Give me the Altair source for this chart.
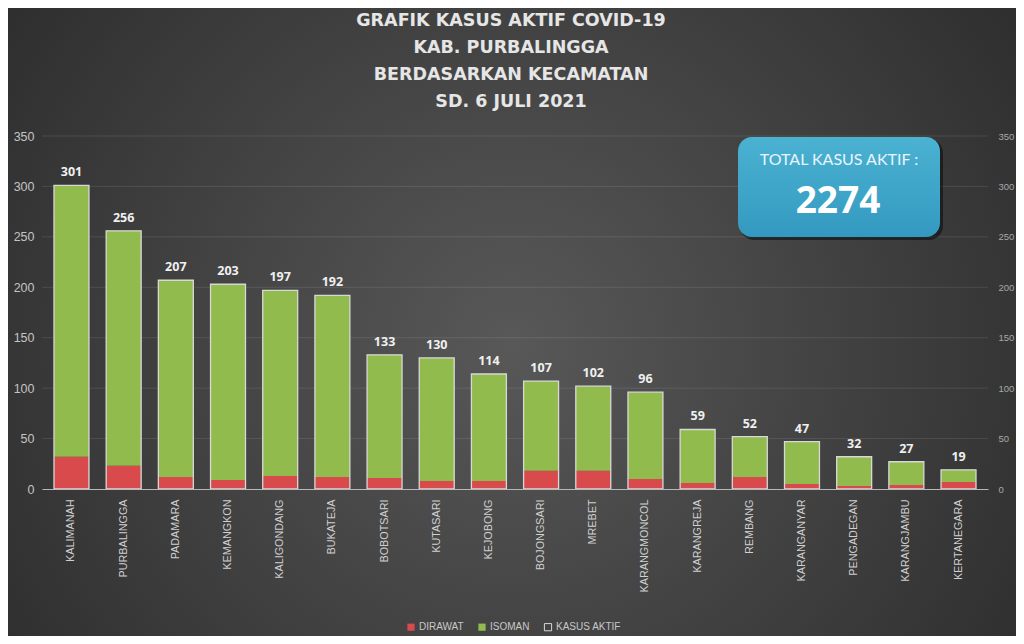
import altair as alt
import pandas as pd

kecamatan = ["KALIMANAH", "PURBALINGGA", "PADAMARA", "KEMANGKON", "KALIGONDANG",
             "BUKATEJA", "BOBOTSARI", "KUTASARI", "KEJOBONG", "BOJONGSARI", "MREBET",
             "KARANGMONCOL", "KARANGREJA", "REMBANG", "KARANGANYAR", "PENGADEGAN",
             "KARANGJAMBU", "KERTANEGARA"]
kasus_aktif = [301, 256, 207, 203, 197, 192, 133, 130, 114, 107, 102, 96, 59, 52, 47, 32, 27, 19]
dirawat = [32, 23, 12, 9, 13, 12, 11, 8, 8, 18, 18, 10, 6, 12, 5, 3, 4, 7]
isoman = [269, 233, 195, 194, 184, 180, 122, 122, 106, 89, 84, 86, 53, 40, 42, 29, 23, 12]
kategori = ["DIRAWAT", "ISOMAN", "KASUS AKTIF"]
y_ticks = [0, 50, 100, 150, 200, 250, 300, 350]
title_lines = ["GRAFIK KASUS AKTIF COVID-19", "KAB. PURBALINGGA",
               "BERDASARKAN KECAMATAN", "SD. 6 JULI 2021"]
total_label = "TOTAL KASUS AKTIF :"
total_value = "2274"

W, H = 946, 353
PL, PT, PR, PB = 34, 128, 28, 147

rows = []
for i, k in enumerate(kecamatan):
    rows.append({"Kecamatan": k, "Kategori": "DIRAWAT", "Jumlah": dirawat[i], "ord": 0})
    rows.append({"Kecamatan": k, "Kategori": "ISOMAN", "Jumlah": isoman[i], "ord": 1})
stack_df = pd.DataFrame(rows)
total_df = pd.DataFrame({"Kecamatan": kecamatan, "Jumlah": kasus_aktif,
                         "Kategori": ["KASUS AKTIF"] * len(kecamatan)})
grid_df = pd.DataFrame({"v": y_ticks[1:]})
one = pd.DataFrame({"a": [0]})

x_enc = alt.X("Kecamatan:N", sort=kecamatan, title=None,
              scale=alt.Scale(paddingInner=0.33, paddingOuter=0.23),
              axis=alt.Axis(labelAngle=-90, labelFont="Liberation Sans", labelFontSize=10.8,
                            labelColor="#d0d0d0", labelPadding=10, ticks=False,
                            domainColor="#b8b8b8", domainWidth=1.2, zindex=1))
yscale = alt.Scale(domain=[0, 350], nice=False)

legend_params = dict(orient="none", legendX=364, legendY=486, direction="horizontal",
                     title=None, symbolType="square", symbolSize=52, symbolStrokeWidth=1,
                     labelFont="Liberation Sans", labelFontSize=10, labelColor="#c8c8c8",
                     labelOffset=3, columnPadding=12)
fill_scale = alt.Scale(domain=kategori, range=["#d94a4c", "#92bb4e", "transparent"])
stroke_scale = alt.Scale(domain=kategori, range=["transparent", "transparent", "#d8d8d8"])

bg = alt.Chart(one).mark_rect(
    color=alt.Gradient(gradient="radial", x1=0.5, y1=0.52, r1=0, x2=0.5, y2=0.52, r2=0.72,
                       stops=[alt.GradientStop(offset=0, color="#585858"),
                              alt.GradientStop(offset=1, color="#262626")])
).encode(x=alt.value(-PL), x2=alt.value(W + PR), y=alt.value(-PT), y2=alt.value(H + PB))

grid = alt.Chart(grid_df).mark_rule(color="#ffffff", opacity=0.1, strokeWidth=1).encode(
    y=alt.Y("v:Q", scale=yscale, axis=None), x=alt.value(0), x2=alt.value(W))

bars = alt.Chart(stack_df).mark_bar().encode(
    x=x_enc,
    y=alt.Y("Jumlah:Q", stack="zero", scale=yscale, title=None,
            axis=alt.Axis(values=y_ticks, orient="left", labelFont="Liberation Sans",
                          labelFontSize=12.5, labelColor="#c4c4c4", labelPadding=8,
                          ticks=False, domain=False, grid=False, zindex=1)),
    fill=alt.Fill("Kategori:N", scale=fill_scale, legend=alt.Legend(**legend_params)),
    stroke=alt.Stroke("Kategori:N", scale=stroke_scale, legend=alt.Legend(**legend_params)),
    order=alt.Order("ord:Q"),
)

outline = alt.Chart(total_df).mark_bar(strokeWidth=1.3).encode(
    x=x_enc,
    y=alt.Y("Jumlah:Q", scale=yscale, title=None,
            axis=alt.Axis(values=y_ticks, orient="right", labelFont="Liberation Sans",
                          labelFontSize=9.5, labelColor="#a8a8a8", labelPadding=10,
                          ticks=False, domain=False, grid=False, zindex=1)),
    fill=alt.Fill("Kategori:N", scale=fill_scale, legend=alt.Legend(**legend_params)),
    stroke=alt.Stroke("Kategori:N", scale=stroke_scale, legend=alt.Legend(**legend_params)),
)

labels = alt.Chart(total_df).mark_text(
    font="Open Sans", fontWeight="bold", fontSize=12.5, color="#f0f0f0",
    baseline="alphabetic", dy=-9
).encode(x=x_enc, y=alt.Y("Jumlah:Q", scale=yscale, axis=None), text="Jumlah:Q")

shadow = alt.Chart(one).mark_rect(cornerRadius=14, color="#000000", opacity=0.45).encode(
    x=alt.value(698), x2=alt.value(901), y=alt.value(3), y2=alt.value(104))
box = alt.Chart(one).mark_rect(
    cornerRadius=14,
    color=alt.Gradient(gradient="linear", x1=0, y1=0, x2=0, y2=1,
                       stops=[alt.GradientStop(offset=0, color="#4cb2d2"),
                              alt.GradientStop(offset=1, color="#3399c0")])
).encode(x=alt.value(696), x2=alt.value(898), y=alt.value(1), y2=alt.value(101))
box_t1 = alt.Chart(one).mark_text(
    text=total_label, font="Lato", fontSize=16, color="#e8f6fb", align="center",
    baseline="middle").encode(x=alt.value(797), y=alt.value(24))
box_t2 = alt.Chart(one).mark_text(
    text=total_value, font="Open Sans", fontWeight="bold", fontSize=37, color="#ffffff",
    align="center", baseline="middle").encode(x=alt.value(796), y=alt.value(66))

title = alt.Chart(one).mark_text(
    text=title_lines, font="DejaVu Sans", fontWeight="bold", fontSize=17.5, color="#e6e6e6",
    align="center", baseline="middle", lineHeight=27
).encode(x=alt.value(469), y=alt.value(-115))

chart = alt.layer(bg, grid, bars, outline, labels, shadow, box, box_t1, box_t2, title).resolve_scale(
    y="independent"
).properties(
    width=W, height=H, autosize="none",
    padding={"left": PL, "top": PT, "right": PR, "bottom": PB}
).configure(background="#2e2e2e").configure_view(stroke=None)

chart.save("out.html", embed_options={"renderer": "svg", "actions": False})
